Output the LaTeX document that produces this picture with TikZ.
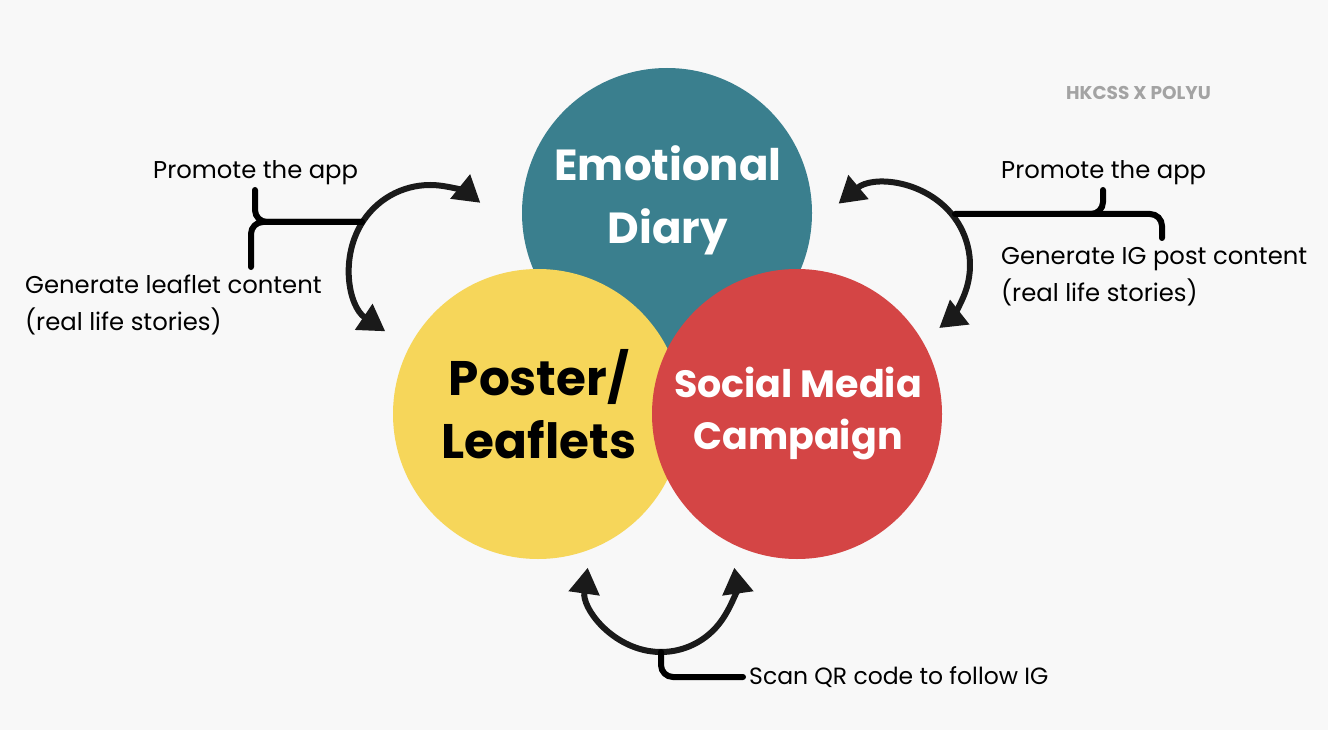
\documentclass[tikz,border=0pt]{standalone}
\usepackage{fontspec}
\setmainfont{Poppins}
\newfontfamily\popb{Poppins Bold}
\usetikzlibrary{arrows.meta}
\definecolor{bg}{HTML}{F8F8F8}
\definecolor{teal}{HTML}{3A7F8E}
\definecolor{yel}{HTML}{F6D65A}
\definecolor{redc}{HTML}{D44545}
\definecolor{ink}{HTML}{1A1A1A}
\definecolor{grayt}{HTML}{A3A3A3}
\tikzset{
  circ/.style={circle, minimum size=290pt, inner sep=0pt},
  big/.style={align=center, inner sep=0pt},
  lbl/.style={font=\fontsize{24.3}{37}\selectfont, anchor=west, inner sep=0pt, align=left},
  arc/.style={draw=ink, line width=6pt, {Triangle[length=26pt,width=30pt]}-{Triangle[length=26pt,width=30pt]}},
  brace/.style={draw=black, line width=6pt, rounded corners=12pt, line cap=round},
}
\begin{document}
\begin{tikzpicture}[x=1pt,y=-1pt]
\useasboundingbox (0,0) rectangle (1328,730);
\fill[bg] (0,0) rectangle (1328,730);
% circles
\node[circ, fill=teal] (ed) at (667,213) {};
\node[circ, fill=yel] (pl) at (538,414) {};
\node[circ, fill=redc] (sm) at (797,414) {};
\node[big, text=white, font=\popb\fontsize{43.5}{63}\selectfont] (edt) at (668,200) {Emotional\\Diary};
\node[big, text=black, font=\popb\fontsize{48.5}{63}\selectfont] (plt) at (539,404) {Poster/\\Leaflets};
\node[big, text=white, font=\popb\fontsize{38}{52}\selectfont] (smt) at (798,414) {Social Media\\Campaign};
% watermark
\node[font=\popb\fontsize{18.5}{20}\selectfont, text=grayt, anchor=west, inner sep=0pt] (wm) at (1066,93) {HKCSS X POLYU};
% labels
\node[lbl] (lp) at (153,173) {Promote the app};
\node[lbl] (lg) at (25,305) {Generate leaflet content\\(real life stories)};
\node[lbl] (rp) at (1001,173) {Promote the app};
\node[lbl] (rg) at (1001,277) {Generate IG post content\\(real life stories)};
\node[lbl, font=\fontsize{23.5}{37}\selectfont] (qr) at (749,677) {Scan QR code to follow IG};
% arcs
\coordinate (lc) at (430,265);
\coordinate (rc) at (890,265);
\coordinate (bc) at (661,578);
\draw[arc] ([shift={(124:80)}]lc) arc[start angle=124, end angle=309, radius=80];
\draw[arc] ([shift={(230:80)}]rc) arc[start angle=230, end angle=412, radius=80];
\draw[arc] ([shift={(188:74)}]bc) arc[start angle=188, end angle=-8, radius=74];
% braces
\coordinate (lj) at (362,222);
\coordinate (rj) at (955,214);
\coordinate (bj) at (661,652);
\draw[brace] (255,190) -- (255,222) -- (lj);
\draw[brace] (lj) -- (251,222) -- (251,267);
\draw[brace] (rj) -- (1162,214) -- (1162,238);
\draw[brace] (1103,190) -- (1103,214) -- (1060,214);
\draw[brace, shorten >=6pt] (bj) -- (661,677) -- (qr.west);
\end{tikzpicture}
\end{document}
